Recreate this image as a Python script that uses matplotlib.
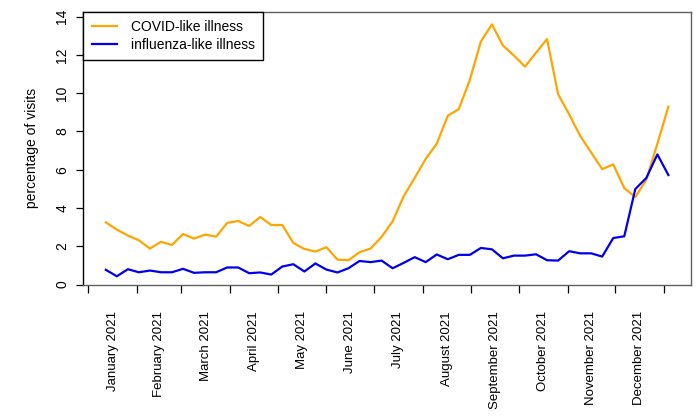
import numpy as np
import pandas as pd
import matplotlib
matplotlib.use('Agg')
import matplotlib.pyplot as plt

######################################
# weekly ED visits - COVID-like vs influenza-like illness, 2021
######################################

plt.rcParams['font.family'] = ['Liberation Sans', 'DejaVu Sans']

# weekly points (52 weeks)
weeks = pd.date_range('2021-01-12', periods=52, freq='7D')

covid = [3.25, 2.87, 2.56, 2.31, 1.88, 2.23, 2.07, 2.64, 2.40, 2.61,
         2.50, 3.22, 3.32, 3.06, 3.53, 3.11, 3.11, 2.17, 1.86, 1.72,
         1.95, 1.30, 1.27, 1.69, 1.88, 2.49, 3.30, 4.61, 5.57, 6.57,
         7.36, 8.82, 9.17, 10.70, 12.70, 13.60, 12.49, 11.97, 11.39, 12.12,
         12.83, 9.95, 8.90, 7.77, 6.90, 6.03, 6.28, 5.04, 4.57, 5.48,
         7.36, 9.30]

flu = [0.77, 0.43, 0.80, 0.64, 0.73, 0.64, 0.64, 0.82, 0.61, 0.64,
       0.64, 0.89, 0.89, 0.59, 0.63, 0.52, 0.94, 1.06, 0.68, 1.10,
       0.78, 0.63, 0.85, 1.23, 1.17, 1.25, 0.85, 1.13, 1.43, 1.17,
       1.57, 1.32, 1.55, 1.55, 1.91, 1.84, 1.37, 1.51, 1.51, 1.58,
       1.27, 1.25, 1.74, 1.63, 1.63, 1.46, 2.43, 2.52, 4.99, 5.57,
       6.80, 5.72]

month_starts = pd.date_range('2021-01-01', '2022-01-01', freq='MS')
month_labels = [d.strftime('%B %Y') for d in month_starts[:-1]]

fs = 10

fig = plt.figure(figsize=(7, 4.2), dpi=100)
ax = fig.add_axes([0.119, 0.3226, 0.868, 0.6495])

ax.plot(weeks, covid, color='#FFA500', lw=1.6, label='COVID-like illness')
ax.plot(weeks, flu, color='#0000EE', lw=1.6, label='influenza-like illness')

# R style x range: data range + 4% each side
span = weeks[-1] - weeks[0]
ax.set_xlim(weeks[0] - span * 0.04, weeks[-1] + span * 0.04)
ax.set_ylim(0, 14.26)

# month boundaries as ticks, labels in the middle of each month
ax.set_xticks(month_starts)
ax.set_xticklabels([])
mids = month_starts[:-1] + (month_starts[1:] - month_starts[:-1]) / 2
ax.set_xticks(mids, minor=True)
ax.set_xticklabels(month_labels, minor=True, rotation=90, fontsize=9.5,
                   ha='center', va='top')
ax.tick_params(axis='x', which='major', length=6, width=0.9, color='black')
ax.tick_params(axis='x', which='minor', length=0, pad=19)

ax.set_yticks(np.arange(0, 15, 2))
ax.set_yticklabels([str(v) for v in range(0, 15, 2)], rotation=90,
                   va='center', fontsize=fs)
ax.tick_params(axis='y', length=5, width=0.9, pad=5, color='black')
ax.set_ylabel('percentage of visits', fontsize=fs, labelpad=12)

for s in ['top', 'right', 'bottom']:
    ax.spines[s].set_color('#606060')
ax.spines['left'].set_color('black')
for s in ax.spines.values():
    s.set_linewidth(1.0)

leg = ax.legend(loc='upper left', bbox_to_anchor=(0, 1), borderaxespad=0,
                fontsize=fs, fancybox=False, framealpha=1, edgecolor='black',
                borderpad=0.6, labelspacing=0.25, handlelength=1.85,
                handletextpad=0.95)
leg.get_frame().set_linewidth(1.0)

plt.savefig('out.png', dpi=100)
